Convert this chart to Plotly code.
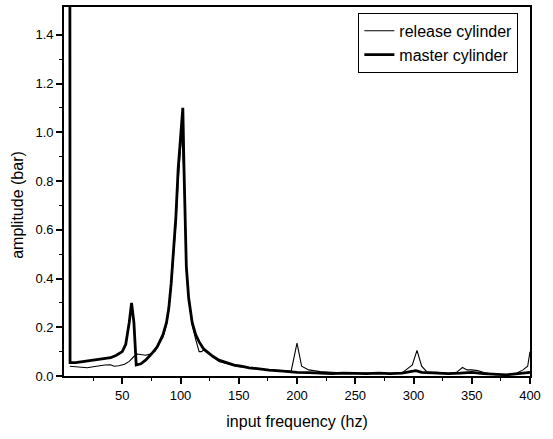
import plotly.graph_objects as go

# ---- data ----
freq_release = [5, 10, 15, 20, 25, 30, 35, 40, 43, 47, 52, 56, 60, 63, 66, 70, 74, 78, 80,
                85, 88, 90, 92, 94, 96, 98, 100, 101, 103, 104, 105, 107, 110, 113, 116, 118,
                121, 124, 128, 133, 140, 146, 148, 152, 159, 162, 166, 176, 188, 195, 200, 204,
                210, 220, 230, 240, 250, 260, 270, 280, 290, 295, 299, 303, 307, 312, 320, 330,
                337, 342, 346, 350, 355, 360, 365, 370, 380, 388, 394, 398, 400]
amp_release = [0.040, 0.038, 0.036, 0.034, 0.038, 0.042, 0.045, 0.046, 0.040, 0.042, 0.048, 0.060,
               0.080, 0.090, 0.088, 0.085, 0.090, 0.100, 0.115,
               0.160, 0.210, 0.270, 0.370, 0.480, 0.620, 0.800, 0.960, 1.000, 0.820, 0.600,
               0.440, 0.320, 0.210, 0.150, 0.100, 0.100,
               0.110, 0.095, 0.080, 0.060, 0.050, 0.042, 0.040, 0.038, 0.034, 0.036, 0.030,
               0.025, 0.020, 0.020, 0.135, 0.040,
               0.025, 0.018, 0.015, 0.012, 0.010, 0.012, 0.010, 0.010, 0.012, 0.030, 0.045,
               0.105, 0.040, 0.015, 0.015, 0.010,
               0.015, 0.035, 0.025, 0.025, 0.022, 0.015, 0.010, 0.005, 0.005, 0.010, 0.025,
               0.040, 0.100]

freq_master = [5, 5.2, 10, 15, 20, 25, 30, 35, 40, 45, 50, 53, 56, 58, 60, 62, 66, 70, 75, 80,
               85, 88, 90, 92, 94, 96, 98, 100, 102, 103, 104, 105, 107, 110, 113, 116, 120,
               124, 128, 133, 140, 146, 152, 159, 166, 176, 188, 200, 210, 220, 230, 240, 250,
               260, 270, 280, 290, 297, 302, 307, 320, 330, 340, 350, 360, 370, 380, 390, 400]
amp_master = [2.000, 0.055, 0.055, 0.058, 0.062, 0.064, 0.067, 0.070, 0.075, 0.085, 0.100,
              0.130, 0.220, 0.300, 0.220, 0.045, 0.050, 0.065, 0.090, 0.120,
              0.170, 0.220, 0.280, 0.380, 0.500, 0.650, 0.850, 0.980, 1.100, 0.850, 0.620,
              0.450, 0.320, 0.220, 0.170, 0.140, 0.110,
              0.093, 0.080, 0.065, 0.055, 0.045, 0.040, 0.033, 0.030, 0.024, 0.020, 0.015,
              0.014, 0.012, 0.010, 0.012, 0.010,
              0.010, 0.012, 0.010, 0.012, 0.018, 0.022, 0.015, 0.012, 0.010, 0.012, 0.015,
              0.010, 0.008, 0.005, 0.010, 0.015]

x_ticks = [50, 100, 150, 200, 250, 300, 350, 400]
x_minor = [25, 75, 125, 175, 225, 275, 325, 375]
y_ticks = [0.0, 0.2, 0.4, 0.6, 0.8, 1.0, 1.2, 1.4]
y_minor = [0.1, 0.3, 0.5, 0.7, 0.9, 1.1, 1.3]

FONT = "Liberation Sans, Arial, sans-serif"

fig = go.Figure()
fig.add_trace(go.Scatter(x=freq_release, y=amp_release, mode="lines",
                         name="release cylinder",
                         line=dict(color="black", width=1.1)))
fig.add_trace(go.Scatter(x=freq_master, y=amp_master, mode="lines",
                         name="master cylinder",
                         line=dict(color="black", width=2.8)))

axis_common = dict(showgrid=False, zeroline=False, showline=True, linecolor="black",
                   linewidth=1.8, mirror=True, ticks="outside", ticklen=6, tickwidth=1.6,
                   tickcolor="black", tickfont=dict(family=FONT, size=13, color="black"))

fig.update_xaxes(range=[0, 400], tickmode="array", tickvals=x_ticks,
                 minor=dict(tickmode="array", tickvals=x_minor, ticks="outside",
                            ticklen=3, tickwidth=1.2, tickcolor="black"),
                 title=dict(text="input frequency (hz)",
                            font=dict(family=FONT, size=16, color="black"), standoff=14),
                 **axis_common)
fig.update_yaxes(range=[0, 1.514], tickmode="array", tickvals=y_ticks, tickformat=".1f",
                 minor=dict(tickmode="array", tickvals=y_minor, ticks="outside",
                            ticklen=3, tickwidth=1.2, tickcolor="black"),
                 **axis_common)

fig.add_annotation(text="amplitude (bar)", textangle=-90, showarrow=False,
                   xref="paper", yref="paper", x=-0.1, y=0.465,
                   xanchor="center", yanchor="middle",
                   font=dict(family=FONT, size=16, color="black"))

fig.update_layout(
    width=553, height=439,
    margin=dict(l=64, r=23, t=5, b=63),
    paper_bgcolor="white", plot_bgcolor="white",
    showlegend=True,
    legend=dict(x=0.975, y=0.984, xanchor="right", yanchor="top",
                bordercolor="black", borderwidth=1, bgcolor="white",
                font=dict(family=FONT, size=16, color="black"),
                tracegroupgap=0, itemwidth=30),
)

fig.write_html("out.html")
